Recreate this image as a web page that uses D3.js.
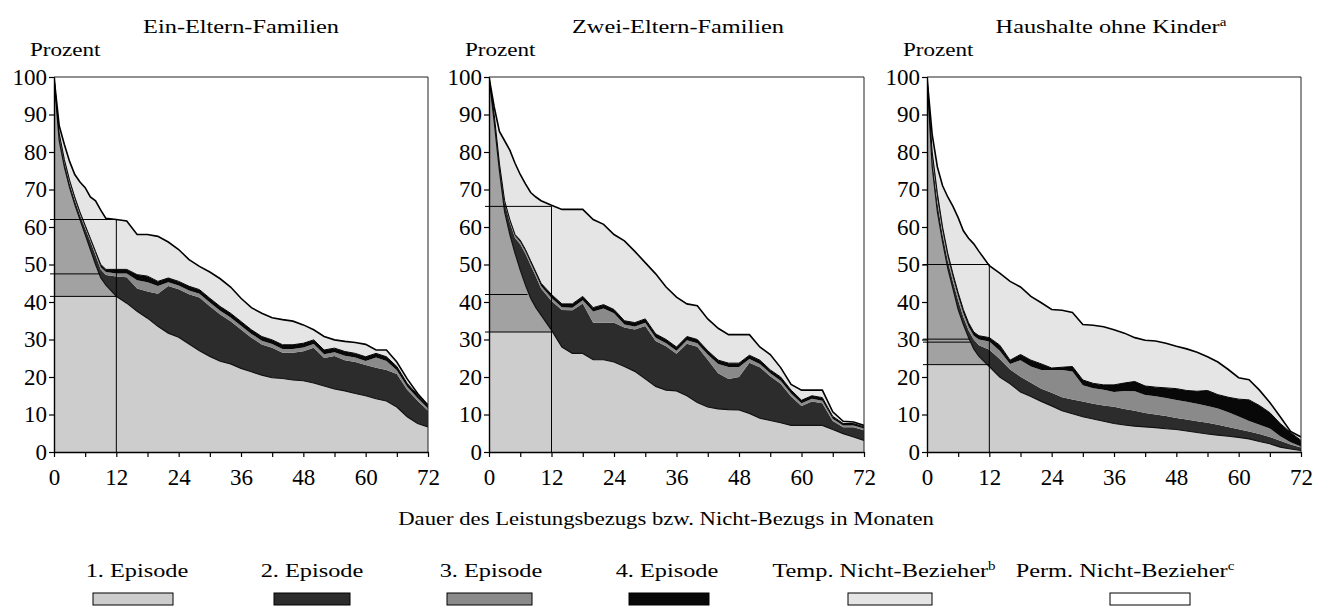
<!DOCTYPE html>
<html>
<head>
<meta charset="utf-8">
<script src="https://cdn.jsdelivr.net/npm/d3@7.9.0/dist/d3.min.js"></script>
<style>
  body { margin: 0; background: #fff; }
  svg { display: block; }
  text { font-family: "Liberation Serif", "Times New Roman", serif; fill: #000; }
</style>
</head>
<body>
<svg id="chart" width="1323" height="606"></svg>
<script>
// === Data (upper edge of each stacked band, percent) ===
const months = [0,1,2,3,4,5,6,7,8,9,10,12,14,16,18,20,22,24,26,28,30,32,34,36,38,40,42,44,46,48,50,52,54,56,58,60,62,64,66,68,70,72];

// Ein-Eltern-Familien
const einEp1 = [100,83,76,70.5,66,62,58,54,50,46.5,44.5,41.5,39.7,37.5,35.7,33.5,31.7,30.6,28.8,27,25.5,24.2,23.5,22.3,21.4,20.5,19.8,19.6,19.2,19,18.4,17.6,16.8,16.3,15.6,15,14.2,13.6,12,9.4,7.6,6.7];
const einEp2 = [100,84.2,77.2,71.7,67.2,63.2,59.7,56.2,52.5,48.7,47.2,46.8,46.6,43.6,42.8,42.2,44.3,43.4,42.1,41.2,38.9,36.7,34.9,32.7,30.5,28.7,27.8,26.5,26.5,26.9,27.8,25.1,25.6,24.5,24,23.2,22.5,21.9,20.8,16.6,13.7,11];
const einEp3 = [100,84.6,77.6,72.1,67.6,63.6,60.1,56.6,53,49.3,48,47.6,47.6,45.8,45.3,44.3,45.3,44.4,43.1,42.2,39.9,37.7,35.9,33.7,31.5,29.7,28.8,27.5,27.5,27.9,28.8,26.1,26.6,25.7,25.2,24.3,25.2,24.3,21.8,17.4,14.4,11.6];
const einEp4 = [100,85,78,72.5,68,64,60.5,57,53.5,50,48.7,48.7,48.7,47.3,46.9,45.5,46.4,45.5,44.2,43.3,41,38.8,37,34.8,32.6,30.8,29.9,28.6,28.6,29,29.9,27.2,27.7,26.8,26.3,25.4,26.3,25.4,22.8,18.3,15.2,12.3];
const einTotal = [100,87,82,77.5,74,72,70.5,68,67,64.5,62.3,62,61.6,58,58,57.5,56,54,51.3,49.5,48,46.2,44,41,38.5,37,35.8,35.3,34.9,33.9,32.6,30.8,29.9,29.5,29.2,28.7,27.2,27.2,24,19.5,15.6,12.5];
const einRefs = [62, 47.5, 41.5];
const einRefEnds = [12, 8.9, 12];

// Zwei-Eltern-Familien
const zweiEp1 = [100,88,75,64,58,53,48.5,44.5,41,38.5,36.5,32.5,28,26.3,26.3,24.6,24.6,24,22.8,21.5,19.5,17.5,16.5,16.3,15,13.2,12,11.5,11.3,11.2,10.3,9,8.4,7.8,7.1,7.1,7.1,7.1,6,4.9,4,3.1];
const zweiEp2 = [100,89.5,76.5,66.5,61.3,57.1,55.4,52.9,49.8,46.8,43.6,40.3,37.9,37.8,39.6,34.5,34.5,34.5,33.2,32.7,33.6,29.6,28.2,26.2,28.9,28.1,24.6,21,19.5,20,23.8,22.6,20.2,18.2,14.8,12.3,13.5,13,8.3,6.6,6.6,5.8];
const zweiEp3 = [100,89.8,76.8,66.8,61.7,57.6,56,53.5,50.4,47.4,44.3,41.1,38.6,38.5,40.5,37.5,38.3,37,34,33.5,34.5,30.5,29,27,29.8,29,26,23.5,22.7,22.7,24.8,23.5,21,19,15.6,13,14.2,13.7,8.9,7.1,7.1,6.3];
const zweiEp4 = [100,90,77,67,62,58,56.5,54,51,48,45,42,39.5,39.5,41.5,38.5,39.3,38,35,34.5,35.5,31.5,30,28,30.8,30,27,24.5,23.7,23.7,25.8,24.5,21.9,20,16.5,13.8,15,14.5,9.5,7.6,7.6,6.7];
const zweiTotal = [100,92,85.5,83,80.5,77,74,71.5,69.2,68,67,65.8,64.7,64.7,64.7,62,60.7,58,56.3,53.5,50.5,47.5,44,41.3,39.5,39,35.5,33,31.3,31.3,31.3,28,26,22.5,18,16.5,16.5,16.5,10.7,8.2,8,7.1];
const zweiRefs = [65.5, 42, 32];
const zweiRefEnds = [12, 7.4, 12];

// Haushalte ohne Kinder
const ohneEp1 = [100,76,64,56,49,43.5,38,34,30.5,27.5,25.5,22.8,20,18.2,16,14.8,13.5,12.3,11,10.2,9.4,8.8,8.2,7.6,7.2,6.9,6.7,6.5,6.2,6,5.6,5.2,4.8,4.5,4.2,3.9,3.5,2.8,2.2,1.3,0.8,0.4];
const ohneEp2 = [100,78,66.5,58,51,45.5,40.5,36,32.5,30,28.5,27.3,24.8,22,20.1,18.5,16.9,15.8,14.6,14,13.5,12.9,12.4,12.1,11.5,11,10.4,10,9.6,9.1,8.7,8.2,7.8,7.3,6.7,6.1,5.5,4.8,4,3,2,1.2];
const ohneEp3 = [100,79,67.5,59,52,46.5,41.5,37,33.5,31,30,29.5,27,23.5,24.5,22.8,21.9,21.9,21.9,21.5,17.8,17,16.6,16,16.3,16.2,15.2,14.9,14.4,13.9,13.4,12.9,12.3,11.6,10.6,9.5,8.3,7.3,6.3,4.2,2.6,1.5];
const ohneEp4 = [100,80,69,60,53,47.5,42.5,38,34.5,32,31,30.5,28.5,24.5,26,24.5,23.5,22.4,22.6,22.8,19.2,18.3,17.9,17.9,18.4,18.8,17.6,17.3,17.1,16.9,16.4,16.2,16.4,15.3,14.6,14.1,13.9,12.4,10.5,7.6,5.2,3.1];
const ohneTotal = [100,84.6,76,71,68,65.5,62.5,59,57,55.5,53.5,49.7,47.7,45.5,44,41.5,39.8,38,37.8,37.2,34,33.8,33.4,32.6,31.7,30.5,29.8,29.6,29,28.2,27.5,26.6,25.4,24,22,19.8,19.3,16.5,13.2,9.4,5.5,4];
const ohneRefs = [50, 30.1, 29.3, 23.3];
const ohneRefEnds = [12, 8.3, 8.3, 12];

const panelTitles = ['Ein-Eltern-Familien', 'Zwei-Eltern-Familien', 'Haushalte ohne Kinder'];
const panelSups = ['', '', 'a'];
const yTicks = [0, 10, 20, 30, 40, 50, 60, 70, 80, 90, 100];
const xTicks = [0, 6, 12, 18, 24, 30, 36, 42, 48, 54, 60, 66, 72];

const legendNames = ['1. Episode', '2. Episode', '3. Episode', '4. Episode', 'Temp. Nicht-Bezieher', 'Perm. Nicht-Bezieher'];
const legendSups = ['', '', '', '', 'b', 'c'];

// === Styling / layout ===
const layerFills = ['#cdcdcd', '#2c2c2c', '#8a8a8a', '#080808', '#e5e5e5', '#ffffff'];
const shadeFill = '#a2a2a2';
const panelLeft = [54, 489, 927];
const panelRight = [428, 864, 1301];
const titleX = [241, 678, 1111];
const plotTop = 77;
const plotBottom = 452;
const legendTextX = [137, 312, 491, 667, 884, 1125];
const legendBoxX = [93, 274, 447, 629, 848, 1110];
const legendBoxW = [80, 76, 85, 80, 84, 80];
const sx = 1.28;

const panels = [
  { bounds: [einEp1, einEp2, einEp3, einEp4, einTotal], refs: einRefs, refEnds: einRefEnds },
  { bounds: [zweiEp1, zweiEp2, zweiEp3, zweiEp4, zweiTotal], refs: zweiRefs, refEnds: zweiRefEnds },
  { bounds: [ohneEp1, ohneEp2, ohneEp3, ohneEp4, ohneTotal], refs: ohneRefs, refEnds: ohneRefEnds }
];

const svg = d3.select('#chart');
const defs = svg.append('defs');

function addText(parent, x, y, str, size, anchor, sup, scale) {
  const t = parent.append('text')
    .attr('transform', `translate(${x},${y}) scale(${scale},1)`)
    .attr('text-anchor', anchor)
    .attr('font-size', size);
  t.append('tspan').text(str);
  if (sup) t.append('tspan').attr('font-size', size * 0.62).attr('dy', -size * 0.38).text(sup);
  return t;
}

// === Panels ===
panels.forEach((p, i) => {
  const x = d3.scaleLinear().domain([0, 72]).range([panelLeft[i], panelRight[i]]);
  const y = d3.scaleLinear().domain([0, 100]).range([plotBottom, plotTop]);
  const g = svg.append('g');

  defs.append('clipPath').attr('id', `plot-${i}`)
    .append('rect')
    .attr('x', x(0)).attr('y', y(100))
    .attr('width', x(72) - x(0)).attr('height', y(0) - y(100));

  const lowRef = d3.min(p.refs);
  defs.append('clipPath').attr('id', `shade-${i}`)
    .append('rect')
    .attr('x', x(0)).attr('y', y(100))
    .attr('width', x(12) - x(0)).attr('height', y(lowRef) - y(100));

  const plot = g.append('g').attr('clip-path', `url(#plot-${i})`);

  // stacked bands
  p.bounds.forEach((upper, k) => {
    const lower = k === 0 ? null : p.bounds[k - 1];
    const area = d3.area()
      .x((d, j) => x(months[j]))
      .y0((d, j) => y(lower ? lower[j] : 0))
      .y1((d) => y(d));
    plot.append('path').datum(upper).attr('d', area).attr('fill', layerFills[k]);
  });

  // darker shading of the first episode above the 12-month level
  const ep1Area = d3.area()
    .x((d, j) => x(months[j]))
    .y0(y(0))
    .y1((d) => y(d));
  plot.append('g').attr('clip-path', `url(#shade-${i})`)
    .append('path').datum(p.bounds[0]).attr('d', ep1Area).attr('fill', shadeFill);

  // outlines
  const line = d3.line().x((d, j) => x(months[j])).y((d) => y(d));
  plot.append('path').datum(p.bounds[0]).attr('d', line)
    .attr('fill', 'none').attr('stroke', '#111').attr('stroke-width', 1.2);
  plot.append('path').datum(p.bounds[3]).attr('d', line)
    .attr('fill', 'none').attr('stroke', '#000').attr('stroke-width', 1);
  plot.append('path').datum(p.bounds[4]).attr('d', line)
    .attr('fill', 'none').attr('stroke', '#000').attr('stroke-width', 1.6);

  // 12-month reference lines
  p.refs.forEach((v, r) => {
    g.append('line')
      .attr('x1', x(0) - 4).attr('x2', x(p.refEnds[r]))
      .attr('y1', y(v)).attr('y2', y(v))
      .attr('stroke', '#000').attr('stroke-width', 1);
  });
  g.append('line')
    .attr('x1', x(12)).attr('x2', x(12))
    .attr('y1', y(0)).attr('y2', y(d3.max(p.refs)))
    .attr('stroke', '#000').attr('stroke-width', 1);

  // frame top and right
  g.append('path')
    .attr('d', `M${x(0)},${y(100)}H${x(72)}V${y(0)}`)
    .attr('fill', 'none').attr('stroke', '#222').attr('stroke-width', 1);

  // axes
  const yAxis = d3.axisLeft(y).tickValues(yTicks).tickSize(5).tickSizeOuter(0).tickPadding(2);
  const xAxis = d3.axisBottom(x).tickValues(xTicks).tickSize(5).tickSizeOuter(0).tickPadding(12)
    .tickFormat((d) => (d % 12 === 0 ? d : ''));

  const ya = g.append('g').attr('transform', `translate(${x(0)},0)`).call(yAxis);
  const xa = g.append('g').attr('transform', `translate(0,${y(0)})`).call(xAxis);
  [ya, xa].forEach((a) => {
    a.select('.domain').attr('stroke', '#000').attr('stroke-width', 1.4);
    a.selectAll('.tick line').attr('stroke', '#000').attr('stroke-width', 1.2);
    a.selectAll('.tick text')
      .attr('font-family', '"Liberation Serif", "Times New Roman", serif')
      .attr('font-size', 23).attr('fill', '#000');
  });

  // titles
  addText(svg, titleX[i], 33, panelTitles[i], 19, 'middle', panelSups[i], sx);
  addText(svg, x(0) - 24, 56, 'Prozent', 19, 'start', '', sx * 0.95);
});

// === Axis title ===
addText(svg, 666, 525, 'Dauer des Leistungsbezugs bzw. Nicht-Bezugs in Monaten', 18, 'middle', '', 1.26);

// === Legend ===
legendNames.forEach((name, k) => {
  addText(svg, legendTextX[k], 577, name, 19, 'middle', legendSups[k], sx);
  svg.append('rect')
    .attr('x', legendBoxX[k]).attr('y', 593)
    .attr('width', legendBoxW[k]).attr('height', 12)
    .attr('fill', layerFills[k])
    .attr('stroke', '#000').attr('stroke-width', 1);
});
</script>
</body>
</html>
